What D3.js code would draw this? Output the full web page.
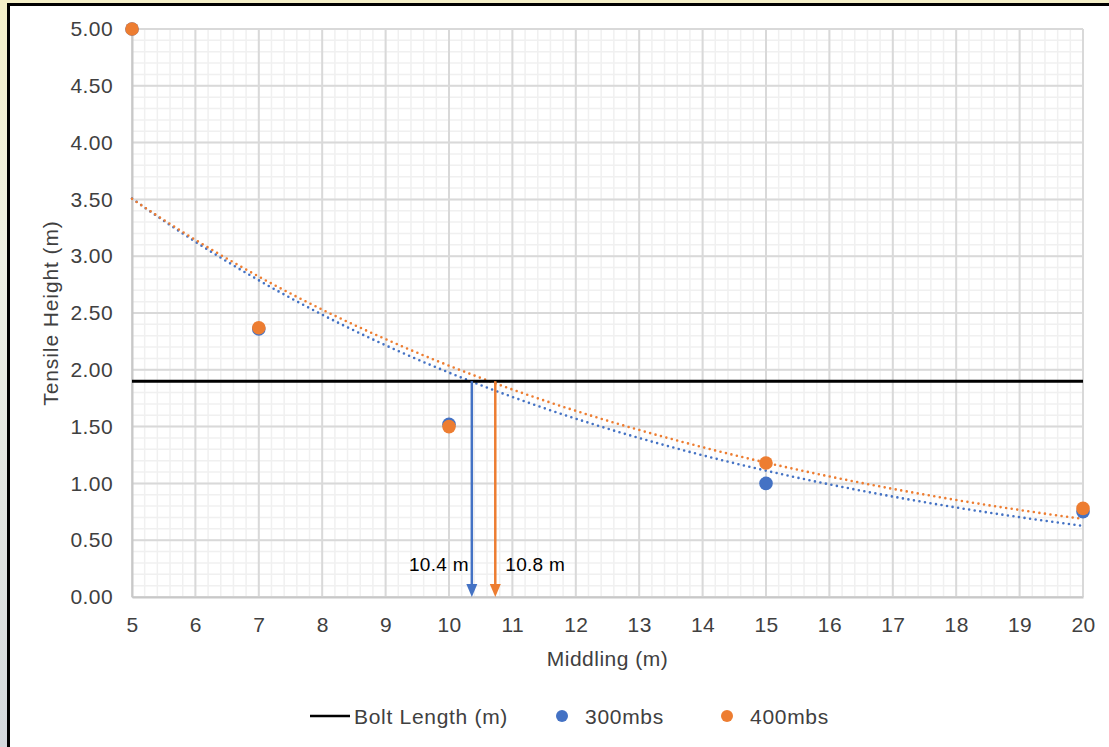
<!DOCTYPE html>
<html><head><meta charset="utf-8">
<script src="https://cdn.jsdelivr.net/npm/d3@7"></script>
<style>
html,body{margin:0;padding:0;background:#fff;}
svg{display:block;font-family:"Liberation Sans",Arial,sans-serif;}
</style></head>
<body>
<svg id="chart" width="1109" height="747"></svg>
<script>
// ---- data ----
const middling = [5, 7, 10, 15, 20];
const height300 = [5.00, 2.36, 1.52, 1.00, 0.75];
const height400 = [5.00, 2.37, 1.50, 1.18, 0.78];
const boltLength = 1.9;
const seriesNames = ["300mbs", "400mbs"];
const seriesColors = ["#4472C4", "#ED7D31"];
const crossingX = [10.36, 10.73];
const crossingLabels = ["10.4 m", "10.8 m"];
const xTicks = [5,6,7,8,9,10,11,12,13,14,15,16,17,18,19,20];
const yTicks = [0,0.5,1,1.5,2,2.5,3,3.5,4,4.5,5];

const svg = d3.select("#chart");
const W = 1109, H = 747;
const m = {left:132, right:1109-1083, top:29, bottom:747-597};

// background outside frame
const defs = svg.append("defs");
const g0 = defs.append("linearGradient").attr("id","bg").attr("x1",0).attr("y1",0).attr("x2",0).attr("y2",1);
g0.append("stop").attr("offset","0%").attr("stop-color","#f4efc8");
g0.append("stop").attr("offset","35%").attr("stop-color","#eef0e4");
g0.append("stop").attr("offset","100%").attr("stop-color","#d4d8dc");
svg.append("rect").attr("x",0).attr("y",0).attr("width",W).attr("height",H).attr("fill","url(#bg)");
svg.append("rect").attr("x",8).attr("y",4).attr("width",W).attr("height",H).attr("fill","#fff");
svg.append("line").attr("x1",7).attr("x2",W).attr("y1",4.5).attr("y2",4.5).attr("stroke","#000").attr("stroke-width",3);
svg.append("line").attr("x1",8.5).attr("x2",8.5).attr("y1",3).attr("y2",H).attr("stroke","#000").attr("stroke-width",3);

const x = d3.scaleLinear().domain([5,20]).range([m.left, W-m.right]);
const y = d3.scaleLinear().domain([0,5]).range([H-m.bottom, m.top]);

const grid = svg.append("g");
// minor grid
const xMinor = d3.range(5, 20.0001, 0.2);
const yMinor = d3.range(0, 5.0001, 0.1);
grid.selectAll(".xm").data(xMinor).join("line")
  .attr("x1",d=>x(d)).attr("x2",d=>x(d)).attr("y1",y(0)).attr("y2",y(5))
  .attr("stroke","#f0f0f0").attr("stroke-width",1.5);
grid.selectAll(".ym").data(yMinor).join("line")
  .attr("y1",d=>y(d)).attr("y2",d=>y(d)).attr("x1",x(5)).attr("x2",x(20))
  .attr("stroke","#f0f0f0").attr("stroke-width",1.5);
// major grid
grid.selectAll(".xM").data(xTicks).join("line")
  .attr("x1",d=>x(d)).attr("x2",d=>x(d)).attr("y1",y(0)).attr("y2",y(5))
  .attr("stroke","#d9d9d9").attr("stroke-width",2);
grid.selectAll(".yM").data(yTicks).join("line")
  .attr("y1",d=>y(d)).attr("y2",d=>y(d)).attr("x1",x(5)).attr("x2",x(20))
  .attr("stroke","#d9d9d9").attr("stroke-width",2);

// axes
const xAxis = svg.append("g").attr("transform",`translate(0,${y(0)})`)
  .call(d3.axisBottom(x).tickValues(xTicks).tickFormat(d3.format("d")).tickSize(0).tickPadding(20));
xAxis.select(".domain").attr("stroke","#c8c8c8").attr("stroke-width",2);
xAxis.selectAll("text").attr("font-size",21).attr("letter-spacing",0.4).attr("fill","#404040").attr("font-family","Liberation Sans, Arial, sans-serif");

const yAxis = svg.append("g").attr("transform",`translate(${x(5)},0)`)
  .call(d3.axisLeft(y).tickValues(yTicks).tickFormat(d3.format(".2f")).tickSize(0).tickPadding(19));
yAxis.select(".domain").attr("stroke","#c8c8c8").attr("stroke-width",2);
yAxis.selectAll("text").attr("font-size",21).attr("letter-spacing",0.4).attr("fill","#404040").attr("font-family","Liberation Sans, Arial, sans-serif");

// axis titles
svg.append("text").attr("x",(x(5)+x(20))/2).attr("y",666).attr("text-anchor","middle")
  .attr("font-size",21).attr("letter-spacing",0.5).attr("fill","#404040").text("Middling (m)");
svg.append("text").attr("transform",`translate(58,${(y(0)+y(5))/2}) rotate(-90)`).attr("text-anchor","middle")
  .attr("font-size",21).attr("letter-spacing",0.9).attr("fill","#404040").text("Tensile Height (m)");

// exponential trendlines (least squares on ln y)
function expFit(xs, ys){
  const n = xs.length;
  const ly = ys.map(Math.log);
  const mx = d3.mean(xs), my = d3.mean(ly);
  let sxy=0, sxx=0;
  for(let i=0;i<n;i++){ sxy += (xs[i]-mx)*(ly[i]-my); sxx += (xs[i]-mx)**2; }
  const b = sxy/sxx, a = Math.exp(my - b*mx);
  return t => a*Math.exp(b*t);
}
const series = [height300, height400];
const line = d3.line().x(d=>x(d[0])).y(d=>y(d[1])).curve(d3.curveLinear);
series.forEach((vals,i)=>{
  const f = expFit(middling, vals);
  const pts = d3.range(5, 20.0001, 0.1).map(t=>[t, f(t)]);
  svg.append("path").attr("d", line(pts)).attr("fill","none")
    .attr("stroke", seriesColors[i]).attr("stroke-width",2.6)
    .attr("stroke-linecap","round").attr("stroke-dasharray","0 5.6");
});

// bolt length line
svg.append("line").attr("x1",x(5)).attr("x2",x(20)).attr("y1",y(boltLength)).attr("y2",y(boltLength))
  .attr("stroke","#000").attr("stroke-width",3);

// arrows
crossingX.forEach((cx,i)=>{
  const px = x(cx);
  svg.append("line").attr("x1",px).attr("x2",px).attr("y1",y(boltLength)).attr("y2",y(0)-12)
    .attr("stroke",seriesColors[i]).attr("stroke-width",2.5);
  svg.append("path").attr("d",`M${px-5.5},${y(0)-13}L${px+5.5},${y(0)-13}L${px},${y(0)}Z`)
    .attr("fill",seriesColors[i]);
});
svg.append("text").attr("x",x(crossingX[0])-3).attr("y",571).attr("text-anchor","end")
  .attr("font-size",19).attr("letter-spacing",0.3).attr("fill","#000").text(crossingLabels[0]);
svg.append("text").attr("x",x(crossingX[1])+10).attr("y",571).attr("text-anchor","start")
  .attr("font-size",19).attr("letter-spacing",0.3).attr("fill","#000").text(crossingLabels[1]);

// points
series.forEach((vals,i)=>{
  svg.append("g").selectAll("circle").data(middling.map((t,j)=>[t, vals[j]])).join("circle")
    .attr("cx",d=>x(d[0])).attr("cy",d=>y(d[1])).attr("r",6.8).attr("fill",seriesColors[i]);
});

// legend
const lg = svg.append("g");
lg.append("line").attr("x1",310).attr("x2",350).attr("y1",716).attr("y2",716).attr("stroke","#000").attr("stroke-width",2.5);
lg.append("text").attr("x",354).attr("y",724).attr("font-size",21).attr("letter-spacing",0.7).attr("fill","#404040").text("Bolt Length (m)");
[[562,585],[727,750]].forEach((p,i)=>{
  lg.append("circle").attr("cx",p[0]).attr("cy",716).attr("r",6).attr("fill",seriesColors[i]);
  lg.append("text").attr("x",p[1]).attr("y",724).attr("font-size",21).attr("letter-spacing",0.7).attr("fill","#404040").text(seriesNames[i]);
});
</script>
</body></html>
